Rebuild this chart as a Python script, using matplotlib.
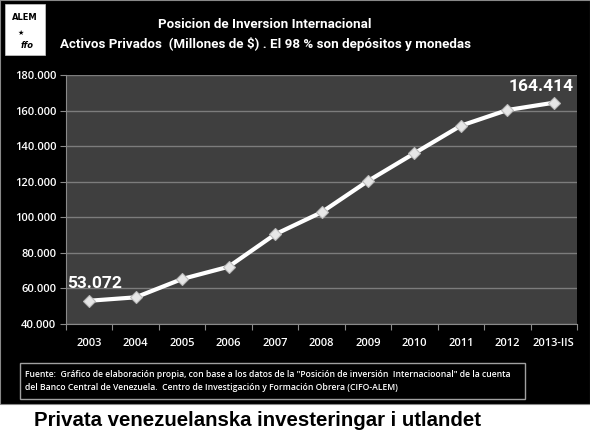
import matplotlib
matplotlib.use("Agg")
import matplotlib.pyplot as plt
from matplotlib.patches import Rectangle

categories = ["2003", "2004", "2005", "2006", "2007", "2008", "2009", "2010", "2011", "2012", "2013-IIS"]
values = [53072, 55000, 65300, 72200, 90400, 102800, 120400, 136000, 151500, 160300, 164414]
y_ticks = [40000, 60000, 80000, 100000, 120000, 140000, 160000, 180000]
y_tick_labels = ["40.000", "60.000", "80.000", "100.000", "120.000", "140.000", "160.000", "180.000"]
title_lines = ["Posicion de Inversion Internacional",
               "Activos Privados  (Millones de $) . El 98 % son depósitos y monedas"]
source_text = ("Fuente:  Gráfico de elaboración propia, con base a los datos de la \"Posición de inversión  Internacioonal\" de la cuenta\n"
               "del Banco Central de Venezuela.  Centro de Investigación y Formación Obrera (CIFO-ALEM)")
caption = "Privata venezuelanska investeringar i utlandet"

W, H = 590, 441
fig = plt.figure(figsize=(W / 100, H / 100), dpi=100, facecolor="white")

def fx(px):
    return px / W

def fy(py):
    return 1 - py / H

# black background region
fig.patches.append(Rectangle((0, fy(404)), 1, 1 - fy(404), transform=fig.transFigure,
                             facecolor="black", edgecolor="#888888", linewidth=0.8, zorder=-5))

ax = fig.add_axes([fx(66), fy(324), fx(577) - fx(66), fy(75) - fy(324)], zorder=2)
ax.set_facecolor("#3f3f3f")
xs = list(range(len(categories)))
ax.plot(xs, values, color="white", linewidth=3.0, marker="D", markersize=6,
        markerfacecolor="#e6e6e6", markeredgecolor="#bbbbbb", markeredgewidth=0.8, zorder=3)
ax.set_xlim(-0.5, len(categories) - 0.5)
ax.set_ylim(40000, 180000)
ax.set_yticks(y_ticks)
ax.yaxis.grid(True, color="#7c7c7c", linewidth=1.0)
ax.set_axisbelow(True)

ax.set_xticks([i - 0.5 for i in range(len(categories) + 1)])
ax.set_xticklabels([])
ax.set_xticks(xs, minor=True)
ax.set_xticklabels(categories, minor=True, family="Open Sans", fontweight="semibold")
ax.set_yticklabels(y_tick_labels, family="Open Sans", fontweight="semibold")
ax.tick_params(axis="x", which="major", length=4, color="#8a8a8a", direction="out")
ax.tick_params(axis="x", which="minor", length=0, pad=10, labelsize=8, labelcolor="white")
ax.tick_params(axis="y", length=4, color="#8a8a8a", direction="out", labelsize=8,
               labelcolor="white", pad=3)
for s in ["top", "right"]:
    ax.spines[s].set_visible(False)
for s in ["left", "bottom"]:
    ax.spines[s].set_color("#8a8a8a")

ax.annotate(f"{values[0]:,}".replace(",", "."), (xs[0], values[0]), xytext=(-16, 7),
            textcoords="offset points", color="white", fontsize=12.5, fontweight="bold",
            family="Roboto", ha="left", va="bottom")
ax.annotate(f"{values[-1]:,}".replace(",", "."), (xs[-1], values[-1]), xytext=(14, 6),
            textcoords="offset points", color="white", fontsize=12.5, fontweight="bold",
            family="Roboto", ha="right", va="bottom")

fig.text(fx(265), fy(25), title_lines[0], color="white", fontsize=9.6, fontweight="bold",
         family="Roboto", ha="center", va="center")
fig.text(fx(265), fy(44), title_lines[1], color="white", fontsize=9.6, fontweight="bold",
         family="Roboto", ha="center", va="center")

# logo
fig.patches.append(Rectangle((fx(5), fy(55)), fx(45) - fx(5), fy(4) - fy(55), transform=fig.transFigure,
                             facecolor="white", edgecolor="#cccccc", linewidth=0.5, zorder=1))
fig.text(fx(25), fy(17), "ALEM", color="black", fontsize=6, fontweight="bold", ha="center",
         va="center", zorder=3)
fig.text(fx(21), fy(33), "★", color="black", fontsize=5, ha="center", va="center", zorder=3)
fig.text(fx(27), fy(46), "ffo", color="black", fontsize=6, fontstyle="italic", fontweight="bold",
         ha="center", va="center", zorder=3)

# source box
fig.patches.append(Rectangle((fx(20), fy(399)), fx(525) - fx(20), fy(363) - fy(399),
                             transform=fig.transFigure, facecolor="black", edgecolor="#a0a0a0",
                             linewidth=1.0, zorder=1))
fig.text(fx(25), fy(381), source_text, color="white", fontsize=6.2, family="Open Sans",
         fontweight="semibold", ha="left", va="center", linespacing=1.6, zorder=3)

fig.text(fx(258), fy(421), caption, color="black", fontsize=14.7, fontweight="bold",
         family="Liberation Sans", ha="center", va="center")

fig.savefig("out.png", dpi=100, facecolor="white")
